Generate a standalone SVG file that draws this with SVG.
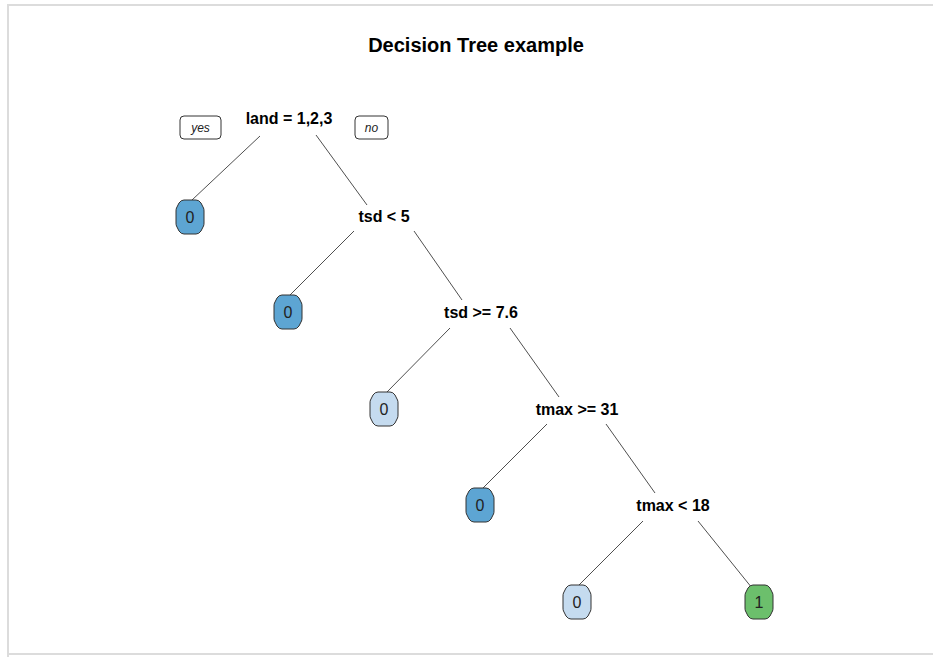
<svg xmlns="http://www.w3.org/2000/svg" width="933" height="657" viewBox="0 0 933 657">
<style>
.lbl{font-family:"Liberation Sans",Arial,sans-serif;font-weight:bold;font-size:16px;fill:#000;text-anchor:middle}
.title{font-family:"Liberation Sans",Arial,sans-serif;font-weight:bold;font-size:20px;fill:#000;text-anchor:middle}
.yn{font-family:"Liberation Sans",Arial,sans-serif;font-style:italic;font-size:12px;fill:#222;text-anchor:middle}
.ynbox{fill:#fff;stroke:#333;stroke-width:1}
.leaf{stroke:#333;stroke-width:1}
.lt{font-family:"Liberation Sans",Arial,sans-serif;font-size:16px;fill:#222;text-anchor:middle}
.dk{fill:#5da5d3}
.lb{fill:#c5dbef}
.gr{fill:#6cbf6c}
.edge{stroke:#222;stroke-width:0.8;fill:none}
</style>
<defs>
<path id="leafshape" d="M-6,-17 L6,-17 Q9,-17 11,-14 L13.5,-9 Q14,-8 14,-6 L14,6 Q14,8 13.5,9 L11,14 Q9,17 6,17 L-6,17 Q-9,17 -11,14 L-13.5,9 Q-14,8 -14,6 L-14,-6 Q-14,-8 -13.5,-9 L-11,-14 Q-9,-17 -6,-17 Z"/>
</defs>
<rect x="0" y="0" width="933" height="657" fill="#fff"/>
<path d="M8,657 L8,5 L933,5" fill="none" stroke="#dcdcdc" stroke-width="2"/>
<path d="M8,654 L933,654" fill="none" stroke="#dcdcdc" stroke-width="2"/>
<text class="title" x="476" y="52">Decision Tree example</text>
<g id="connectors">
<line class="edge" x1="260" y1="136" x2="192" y2="200"/>
<line class="edge" x1="316" y1="135" x2="367" y2="205"/>
<line class="edge" x1="354" y1="231" x2="290" y2="295"/>
<line class="edge" x1="414" y1="231" x2="462" y2="300"/>
<line class="edge" x1="450" y1="328" x2="387" y2="392"/>
<line class="edge" x1="510" y1="328" x2="559" y2="397"/>
<line class="edge" x1="547" y1="424" x2="483" y2="488"/>
<line class="edge" x1="606" y1="424" x2="655" y2="493"/>
<line class="edge" x1="643" y1="521" x2="579" y2="585"/>
<line class="edge" x1="698" y1="521" x2="752" y2="588"/>
</g>
<g id="yes"><rect class="ynbox" x="180" y="116" width="41" height="23" rx="4"/><text class="yn" x="200.5" y="132">yes</text></g>
<g id="no"><rect class="ynbox" x="355" y="116" width="33" height="23" rx="4"/><text class="yn" x="371.5" y="132">no</text></g>
<g id="n_root"><text class="lbl" x="289" y="124">land = 1,2,3</text></g>
<g id="n_tsd5"><text class="lbl" x="384" y="222">tsd &lt; 5</text></g>
<g id="n_tsd76"><text class="lbl" x="481" y="318">tsd &gt;= 7.6</text></g>
<g id="n_tmax31"><text class="lbl" x="577" y="415">tmax &gt;= 31</text></g>
<g id="n_tmax18"><text class="lbl" x="673" y="511">tmax &lt; 18</text></g>
<g id="leaf1" transform="translate(190,217)"><use href="#leafshape" class="leaf dk"/><text class="lt" y="6">0</text></g>
<g id="leaf2" transform="translate(288,312)"><use href="#leafshape" class="leaf dk"/><text class="lt" y="6">0</text></g>
<g id="leaf3" transform="translate(384,409)"><use href="#leafshape" class="leaf lb"/><text class="lt" y="6">0</text></g>
<g id="leaf4" transform="translate(480,505)"><use href="#leafshape" class="leaf dk"/><text class="lt" y="6">0</text></g>
<g id="leaf5" transform="translate(577,602)"><use href="#leafshape" class="leaf lb"/><text class="lt" y="6">0</text></g>
<g id="leaf6" transform="translate(759,602)"><use href="#leafshape" class="leaf gr"/><text class="lt" y="6">1</text></g>
</svg>
